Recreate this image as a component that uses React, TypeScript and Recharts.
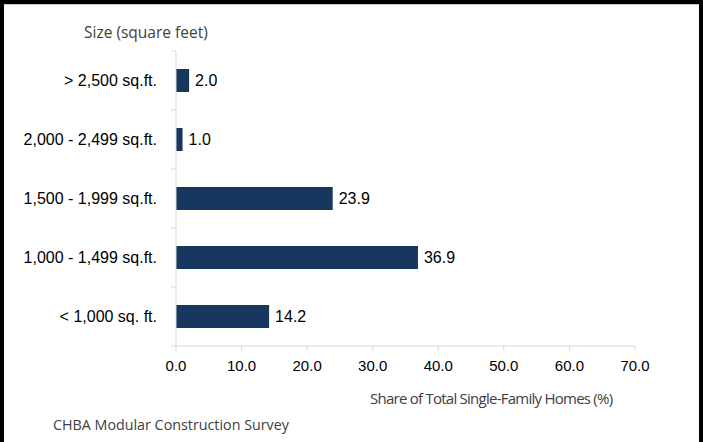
import { BarChart, Bar, XAxis, YAxis, LabelList } from 'recharts';

const sizes = ['> 2,500 sq.ft.', '2,000 - 2,499 sq.ft.', '1,500 - 1,999 sq.ft.', '1,000 - 1,499 sq.ft.', '< 1,000 sq. ft.'];
const shares = [2.0, 1.0, 23.9, 36.9, 14.2];
const shareTicks = [0, 10, 20, 30, 40, 50, 60, 70];

const data = sizes.map((size, i) => ({ size, share: shares[i] }));

const AXIS_GRAY = '#d9d9d9';
const TITLE_FONT = '"Open Sans", "Noto Sans", sans-serif';
const LABEL_FONT = '"Liberation Sans", Arial, sans-serif';

// category ticks sit between the bands, like the spreadsheet original
function SizeTick(props: any) {
  const { x, y, payload, index, visibleTicksCount, height } = props;
  let half = Number(payload?.offset) || 0;
  if (!half && height && visibleTicksCount) half = height / visibleTicksCount / 2;
  const last = index === visibleTicksCount - 1;
  return (
    <g>
      <line x1={x - 5} x2={x} y1={y - half} y2={y - half} stroke={AXIS_GRAY} />
      {last && <line x1={x - 5} x2={x} y1={y + half} y2={y + half} stroke={AXIS_GRAY} />}
      <text x={x - 19} y={y} dy="0.36em" textAnchor="end" fill="#000" fontSize={16} fontFamily={LABEL_FONT}>
        {payload.value}
      </text>
    </g>
  );
}

export default function App() {
  return (
    <div style={{ position: 'fixed', top: 0, left: 0, width: 703, height: 442, background: '#fff' }}>
      <BarChart
        width={703}
        height={442}
        data={data}
        layout="vertical"
        margin={{ top: 51, right: 68, bottom: 66, left: 0 }}
        barCategoryGap={0}
      >
        <XAxis
          type="number"
          domain={[0, 70]}
          ticks={shareTicks}
          interval={0}
          height={30}
          tickFormatter={(v: number) => v.toFixed(1)}
          axisLine={{ stroke: AXIS_GRAY }}
          tickLine={{ stroke: AXIS_GRAY }}
          tickSize={5}
          tickMargin={9}
          tick={{ fill: '#000', fontSize: 15, fontFamily: LABEL_FONT }}
        />
        <YAxis
          type="category"
          dataKey="size"
          width={176}
          interval={0}
          tickSize={0}
          tickMargin={0}
          tickLine={false}
          axisLine={{ stroke: AXIS_GRAY }}
          tick={<SizeTick />}
        />
        <Bar dataKey="share" fill="#17375e" barSize={23} isAnimationActive={false}>
          <LabelList
            dataKey="share"
            position="right"
            offset={6}
            formatter={(v: any) => Number(v).toFixed(1)}
            style={{ fill: '#000', fontSize: 16, fontFamily: LABEL_FONT }}
          />
        </Bar>
      </BarChart>

      <div style={{ position: 'absolute', left: 84, top: 22, fontFamily: TITLE_FONT, fontSize: 15.5, lineHeight: '20px', color: '#404040', whiteSpace: 'nowrap' }}>
        Size (square feet)
      </div>
      <div style={{ position: 'absolute', left: 370, top: 388, fontFamily: TITLE_FONT, fontSize: 15, lineHeight: '20px', color: '#404040', whiteSpace: 'nowrap', letterSpacing: '-0.75px' }}>
        Share of Total Single-Family Homes (%)
      </div>
      <div style={{ position: 'absolute', left: 53, top: 415, fontFamily: TITLE_FONT, fontSize: 14.3, lineHeight: '20px', color: '#404040', whiteSpace: 'nowrap' }}>
        CHBA Modular Construction Survey
      </div>

      <div style={{ position: 'absolute', left: 0, top: 0, width: 703, height: 442, boxSizing: 'border-box', borderTop: '4px solid #000', borderLeft: '4px solid #000', borderRight: '4px solid #000', pointerEvents: 'none' }} />
      <div style={{ position: 'absolute', left: 4, top: 4, width: 695, height: 1, background: '#c8c8c8' }} />
    </div>
  );
}
